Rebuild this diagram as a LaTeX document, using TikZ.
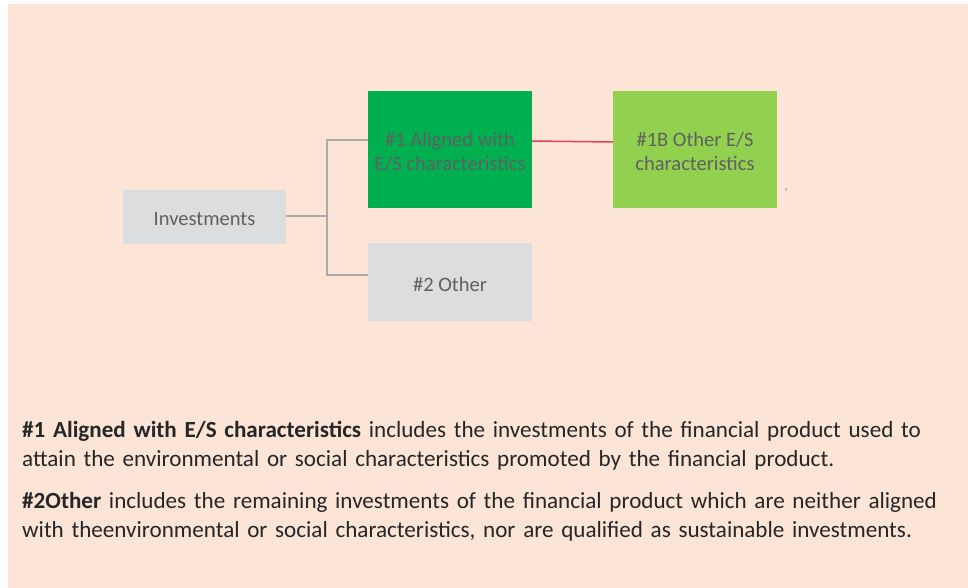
\documentclass[tikz,border=0pt]{standalone}
\usepackage{fontspec}
\setmainfont{Carlito}
\definecolor{peach}{HTML}{FCE4D6}
\definecolor{boxgray}{HTML}{DCDDDE}
\definecolor{darkgreen}{HTML}{00B050}
\definecolor{lightgreen}{HTML}{92D050}
\definecolor{txtgray}{HTML}{606060}
\definecolor{lngray}{HTML}{ABABAB}
\definecolor{lnred}{HTML}{E8405A}
\definecolor{bodytxt}{HTML}{262626}
\begin{document}
\begin{tikzpicture}[x=1pt,y=-1pt,
  box/.style={draw=none,inner sep=0pt},
  lbl/.style={inner sep=0pt,align=center,text=txtgray,font=\fontsize{20.5}{24}\selectfont},
  conn/.style={draw=lngray,line width=1.6pt},
  para/.style={anchor=north west,inner sep=0pt,align=left,text width=950pt,text=bodytxt,font=\fontsize{23.1}{29}\selectfont}]
\useasboundingbox (0,0) rectangle (968,588);
\fill[peach] (8,4) rectangle (968,588);
\node[box,fill=boxgray,minimum width=163pt,minimum height=54pt] (inv) at (204.5,217) {};
\node[lbl] (invt) at (204.5,219) {Investments};
\node[box,fill=darkgreen,minimum width=164pt,minimum height=117pt] (a1) at (450,149.5) {};
\node[lbl] (a1t) at (450,151.5) {\#1 Aligned with\\E/S characteristics};
\node[box,fill=lightgreen,minimum width=164pt,minimum height=117pt] (b1) at (695,149.5) {};
\node[lbl] (b1t) at (695,151.5) {\#1B Other E/S\\characteristics};
\node[box,fill=boxgray,minimum width=164pt,minimum height=78pt] (o2) at (450,282) {};
\node[lbl] (o2t) at (450,284) {\#2 Other};
\coordinate (j) at (327,216);
\draw[conn] (inv.east |- j) -- (j);
\draw[conn] (a1.west |- 0,140) -| (j) |- (o2.west |- 0,275);
\draw[lnred,line width=1.5pt] (a1.east |- 0,141) -- (b1.west |- 0,142);
\node[inner sep=0pt,text=txtgray,font=\fontsize{10}{10}\selectfont] (tick) at (786,192) {`};
\node[para] (p1) at (22,421) {\textbf{\#1 Aligned with E/S characteristics} includes the investments of the financial product used to\\attain the environmental or social characteristics promoted by the financial product.};
\node[para] (p2) at (22,492) {\textbf{\#2Other} includes the remaining investments of the financial product which are neither aligned\\with theenvironmental or social characteristics, nor are qualified as sustainable investments.};
\end{tikzpicture}
\end{document}
